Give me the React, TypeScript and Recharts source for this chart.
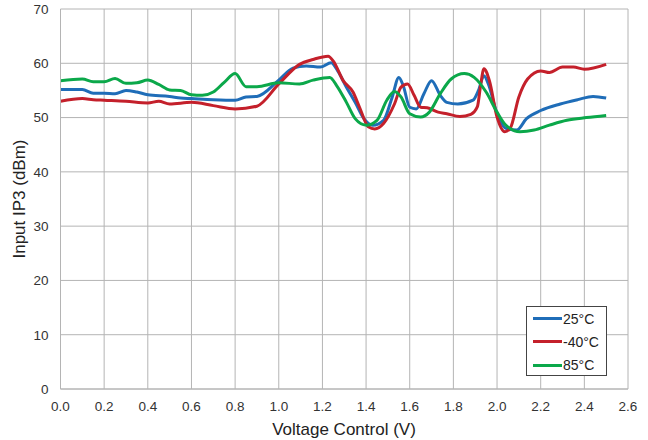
import React from "react";
import { LineChart, Line, XAxis, YAxis, CartesianGrid } from "recharts";

const voltsBlue = [0.0, 0.1, 0.15, 0.2, 0.25, 0.3, 0.35, 0.4, 0.5, 0.55, 0.6, 0.7, 0.8, 0.85, 0.9, 1.0, 1.065, 1.126, 1.19, 1.24, 1.27, 1.31, 1.35, 1.39, 1.43, 1.48, 1.52, 1.55, 1.57, 1.6, 1.63, 1.665, 1.7, 1.74, 1.77, 1.82, 1.89, 1.915, 1.94, 1.96, 2.0, 2.04, 2.09, 2.135, 2.2, 2.29, 2.37, 2.44, 2.5];
const ip3Blue = [55.15, 55.15, 54.5, 54.5, 54.4, 55.0, 54.7, 54.2, 53.9, 53.6, 53.5, 53.3, 53.2, 53.8, 53.9, 56.9, 59.1, 59.5, 59.3, 60.1, 58.6, 55.6, 52.8, 49.8, 48.6, 49.5, 53.8, 57.4, 55.9, 51.9, 51.6, 54.4, 56.8, 54.1, 52.8, 52.5, 53.2, 55.0, 57.7, 56.2, 50.7, 48.0, 47.7, 49.8, 51.3, 52.5, 53.3, 53.9, 53.6];

const voltsRed = [0.0, 0.1, 0.15, 0.2, 0.3, 0.4, 0.45, 0.5, 0.6, 0.7, 0.8, 0.9, 1.0, 1.095, 1.157, 1.226, 1.25, 1.295, 1.34, 1.37, 1.41, 1.44, 1.48, 1.53, 1.56, 1.59, 1.62, 1.65, 1.68, 1.73, 1.77, 1.83, 1.88, 1.91, 1.925, 1.94, 1.965, 2.0, 2.035, 2.06, 2.1, 2.14, 2.2, 2.24, 2.3, 2.35, 2.4, 2.5];
const ip3Red = [53.0, 53.5, 53.3, 53.2, 53.0, 52.7, 53.0, 52.5, 52.8, 52.2, 51.6, 52.1, 56.2, 59.8, 60.7, 61.3, 60.4, 56.8, 54.7, 51.9, 48.3, 47.9, 48.9, 52.5, 55.6, 56.2, 54.1, 51.9, 51.8, 51.0, 50.7, 50.2, 50.6, 52.0, 56.0, 59.0, 56.8, 50.1, 47.4, 48.0, 53.8, 57.1, 58.6, 58.3, 59.3, 59.3, 58.9, 59.8];

const voltsGreen = [0.0, 0.1, 0.15, 0.2, 0.25, 0.3, 0.35, 0.4, 0.45, 0.5, 0.55, 0.6, 0.65, 0.7, 0.75, 0.8, 0.85, 0.9, 1.0, 1.095, 1.157, 1.234, 1.265, 1.31, 1.35, 1.4, 1.45, 1.495, 1.53, 1.56, 1.6, 1.65, 1.69, 1.74, 1.79, 1.85, 1.895, 1.95, 2.0, 2.04, 2.105, 2.17, 2.24, 2.32, 2.41, 2.5];
const ip3Green = [56.8, 57.1, 56.6, 56.6, 57.2, 56.3, 56.4, 56.9, 56.1, 55.1, 55.0, 54.2, 54.1, 54.7, 56.5, 58.1, 55.7, 55.7, 56.4, 56.2, 56.9, 57.4, 55.9, 52.8, 49.8, 48.6, 49.5, 53.2, 54.8, 53.8, 50.7, 50.1, 51.0, 54.4, 57.1, 58.1, 57.4, 54.7, 51.0, 48.6, 47.4, 47.7, 48.6, 49.5, 50.0, 50.4];

const xTicks = [0, 0.2, 0.4, 0.6, 0.8, 1.0, 1.2, 1.4, 1.6, 1.8, 2.0, 2.2, 2.4, 2.6];
const yTicks = [0, 10, 20, 30, 40, 50, 60, 70];

const seriesNames = ["25°C", "-40°C", "85°C"];
const seriesColors = ["#1f6db8", "#c4202b", "#0ba84a"];

const build = (vs: number[], ys: number[]) => vs.map((v, i) => ({ v, y: ys[i] }));
const seriesData = [build(voltsBlue, ip3Blue), build(voltsRed, ip3Red), build(voltsGreen, ip3Green)];

const FONT = "'Liberation Sans', Arial, sans-serif";

const LegendBox = () => (
  <div
    style={{
      position: "absolute",
      left: 526,
      top: 306,
      width: 81,
      height: 70,
      border: "1px solid #444",
      background: "#fff",
      boxSizing: "border-box",
      fontFamily: FONT,
      fontSize: 14,
      color: "#222",
      paddingTop: 0,
    }}
  >
    {seriesNames.map((n, i) => (
      <div key={n} style={{ display: "flex", alignItems: "center", height: 23.3, paddingLeft: 6 }}>
        <div style={{ width: 29, height: 3, background: seriesColors[i], marginRight: 1 }} />
        <span>{n}</span>
      </div>
    ))}
  </div>
);

const XLabel = () => (
  <text x={344} y={435} textAnchor="middle" fill="#222" fontSize={17} fontFamily={FONT}>
    Voltage Control (V)
  </text>
);

const YLabel = () => (
  <text x={25} y={199} transform="rotate(-90 25 199)" textAnchor="middle" fill="#222" fontSize={17} fontFamily={FONT}>
    Input IP3 (dBm)
  </text>
);

export default function App() {
  return (
    <div style={{ position: "absolute", left: 0, top: 0, width: 648, height: 440, background: "#fff" }}>
      <LineChart width={648} height={440} margin={{ top: 9, right: 20, bottom: 0, left: 0 }} style={{ overflow: "visible" }}>
        <CartesianGrid stroke="#b4b4b4" strokeWidth={1} />
        <XAxis
          type="number"
          dataKey="v"
          domain={[0, 2.6]}
          ticks={xTicks}
          tickFormatter={(t: number) => t.toFixed(1)}
          interval={0}
          tickLine={false}
          axisLine={{ stroke: "#b4b4b4" }}
          tick={{ fill: "#333", fontSize: 13.5, fontFamily: FONT }}
          tickMargin={6}
          height={51}
          label={{ content: () => <XLabel /> }}
        />
        <YAxis
          type="number"
          domain={[0, 70]}
          ticks={yTicks}
          interval={0}
          tickLine={false}
          axisLine={{ stroke: "#b4b4b4" }}
          tick={{ fill: "#333", fontSize: 13.5, fontFamily: FONT }}
          tickMargin={6}
          width={60.5}
          label={{ content: () => <YLabel /> }}
        />
        {seriesData.map((d, i) => (
          <Line
            key={seriesNames[i]}
            data={d}
            dataKey="y"
            name={seriesNames[i]}
            type="monotone"
            stroke={seriesColors[i]}
            strokeWidth={3}
            dot={false}
            activeDot={false}
            isAnimationActive={false}
          />
        ))}
      </LineChart>
      <LegendBox />
    </div>
  );
}
